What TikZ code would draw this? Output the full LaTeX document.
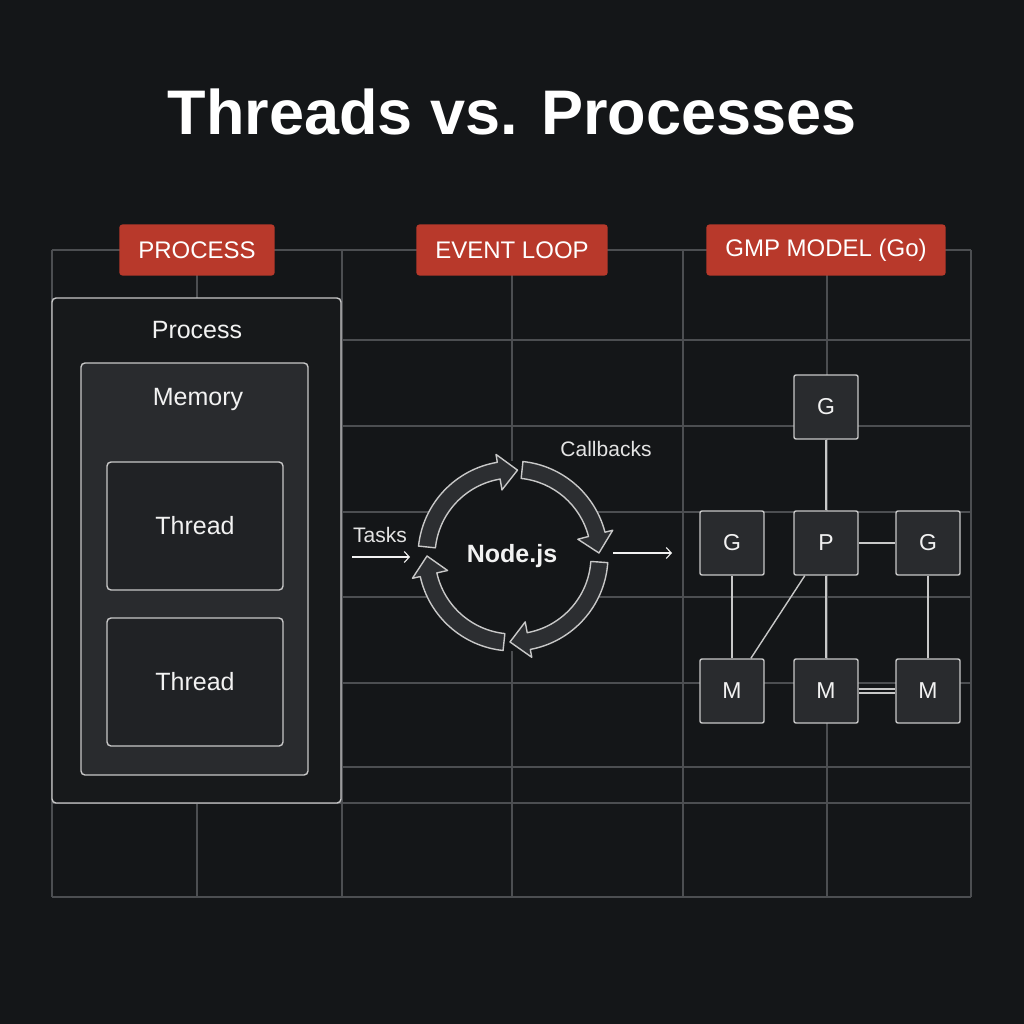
\documentclass[tikz,border=0pt]{standalone}
\usepackage{fontspec}
\setmainfont{Liberation Sans}
\usetikzlibrary{positioning,arrows.meta}

\definecolor{bgcol}{HTML}{141618}
\definecolor{gridcol}{HTML}{4C4E51}
\definecolor{tagred}{HTML}{B8392B}
\definecolor{edgecol}{HTML}{C8C8C8}
\definecolor{procfill}{HTML}{17191B}
\definecolor{memfill}{HTML}{292B2E}
\definecolor{thrfill}{HTML}{202225}
\definecolor{arrfill}{HTML}{2C2E31}
\definecolor{txtcol}{HTML}{F2F2F2}

\tikzset{
  gridline/.style={draw=gridcol, line width=1.2pt},
  tag/.style={fill=tagred, rounded corners=3pt, text=white, minimum height=51pt,
    inner xsep=19pt, font=\fontsize{24}{28}\selectfont},
  panel/.style={draw=edgecol, line width=1.4pt, rounded corners=4pt},
  boxtext/.style={text=txtcol, font=\fontsize{25}{30}\selectfont},
  gobox/.style={draw=edgecol, fill=memfill, line width=1.4pt, rounded corners=2pt,
    minimum size=64pt, text=txtcol, font=\fontsize{23}{28}\selectfont},
  golink/.style={draw=edgecol, line width=1.4pt},
  looparrow/.style={draw=edgecol, fill=arrfill, line width=1.4pt, line join=round},
  flow/.style={draw=txtcol, line width=1.1pt, -{Straight Barb[length=5pt,width=11pt]}},
  smalltext/.style={text=txtcol!88!gray, font=\fontsize{21}{25}\selectfont}
}

\begin{document}
\begin{tikzpicture}[x=1pt,y=-1pt]
  % Background
  \fill[bgcol] (0,0) rectangle (1024,1024);
  % Grid
  \draw[gridline] (52,250) -- (52,897) (197,250) -- (197,897) (342,250) -- (342,897)
    (512,250) -- (512,897) (683,250) -- (683,897) (827,250) -- (827,897) (971,250) -- (971,897);
  \draw[gridline] (52,250) -- (971,250) (52,340) -- (971,340) (52,426) -- (971,426)
    (52,512) -- (971,512) (52,597) -- (971,597) (52,683) -- (971,683)
    (52,767) -- (971,767) (52,803) -- (971,803) (52,897) -- (971,897);
  % Title
  \node[text=white, font=\bfseries\fontsize{63}{70}\selectfont] (title) at (512,112) {Threads vs. Processes};
  % Column tags
  \node[tag] (tagproc) at (197,250) {PROCESS};
  \node[tag] (tagloop) at (512,250) {EVENT LOOP};
  \node[tag] (taggmp) at (826,250) {GMP MODEL (Go)};
  % Process column
  \node[panel, fill=procfill, minimum width=289pt, minimum height=505pt] (proc) at (196.5,550.5) {};
  \node[boxtext] (proctxt) at (197,330) {Process};
  \node[panel, fill=memfill, minimum width=227pt, minimum height=412pt] (mem) at (194.5,569) {};
  \node[boxtext] (memtxt) at (198,399) {Memory};
  \node[panel, fill=thrfill, minimum width=176pt, minimum height=128pt, boxtext] (thr1) at (195,526) {Thread};
  \node[panel, fill=thrfill, minimum width=176pt, minimum height=128pt, boxtext] (thr2) at (195,682) {Thread};
  % Event loop
  \fill[bgcol] (513,556) circle[radius=95];
  \begin{scope}[shift={(513,556)}, y=1pt]
    \draw[looparrow] (174:95) arc[start angle=174, end angle=99.5, radius=95] -- (99.5:103) -- (87:86)
      -- (99.5:67) -- (99.5:78) arc[start angle=99.5, end angle=174, radius=78] -- cycle;
    \draw[looparrow] (84:95) arc[start angle=84, end angle=14.5, radius=95] -- (14.5:103) -- (2:86)
      -- (14.5:67) -- (14.5:78) arc[start angle=14.5, end angle=84, radius=78] -- cycle;
    \draw[looparrow] (-4:95) arc[start angle=-4, end angle=-79.5, radius=95] -- (-79.5:103) -- (-92:86)
      -- (-79.5:67) -- (-79.5:78) arc[start angle=-79.5, end angle=-4, radius=78] -- cycle;
    \draw[looparrow] (-96:95) arc[start angle=-96, end angle=-167.5, radius=95] -- (-167.5:103) -- (-180:86)
      -- (-167.5:67) -- (-167.5:78) arc[start angle=-167.5, end angle=-96, radius=78] -- cycle;
  \end{scope}
  \node[text=txtcol, font=\bfseries\fontsize{25}{30}\selectfont] (nodejs) at (512,556) {Node.js};
  \node[smalltext] (tasks) at (380,535) {Tasks};
  \node[smalltext] (callb) at (606,449) {Callbacks};
  \coordinate (inA) at (352,557);
  \coordinate (inB) at (410,557);
  \coordinate (outA) at (613,553);
  \coordinate (outB) at (672,553);
  \draw[flow] (inA) -- (inB);
  \draw[flow] (outA) -- (outB);
  % GMP model
  \node[gobox] (gtop) at (826,407) {G};
  \node[gobox] (gleft) at (732,543) {G};
  \node[gobox] (pnode) at (826,543) {P};
  \node[gobox] (gright) at (928,543) {G};
  \node[gobox] (mleft) at (732,691) {M};
  \node[gobox] (mmid) at (826,691) {M};
  \node[gobox] (mright) at (928,691) {M};
  \draw[golink] (gtop) -- (pnode);
  \draw[golink] (pnode) -- (gright);
  \draw[golink] (gleft) -- (mleft);
  \draw[golink] (pnode.-123) -- (mleft.60);
  \draw[golink] (pnode) -- (mmid);
  \draw[golink] (gright) -- (mright);
  \draw[golink, double=bgcol, double distance=2.5pt] (mmid) -- (mright);
\end{tikzpicture}
\end{document}
